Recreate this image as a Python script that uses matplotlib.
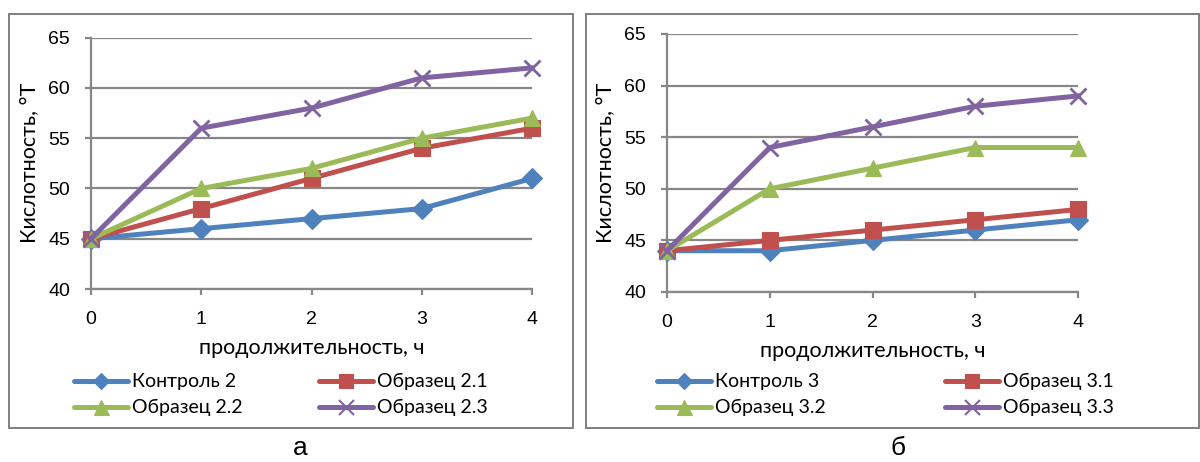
import matplotlib
matplotlib.use("Agg")
import matplotlib.pyplot as plt
from matplotlib.patches import Rectangle

hours = [0, 1, 2, 3, 4]
y_ticks = [40, 45, 50, 55, 60, 65]

names_a = ["Контроль 2", "Образец 2.1", "Образец 2.2", "Образец 2.3"]
control_2 = [45, 46, 47, 48, 51]
sample_2_1 = [45, 48, 51, 54, 56]
sample_2_2 = [45, 50, 52, 55, 57]
sample_2_3 = [45, 56, 58, 61, 62]

names_b = ["Контроль 3", "Образец 3.1", "Образец 3.2", "Образец 3.3"]
control_3 = [44, 44, 45, 46, 47]
sample_3_1 = [44, 45, 46, 47, 48]
sample_3_2 = [44, 50, 52, 54, 54]
sample_3_3 = [44, 54, 56, 58, 59]

x_label = "продолжительность, ч"
y_label = "Кислотность, °Т"

colors = ["#4F81BD", "#C0504D", "#9BBB59", "#8064A2"]
markers = ["D", "s", "^", "x"]
msizes = [10.5, 11.5, 12, 12]

FONT = ["Lato", "DejaVu Sans"]
TICKFONT = ["Liberation Sans", "DejaVu Sans"]
GRID = "#878787"
W, H = 1200, 462

fig = plt.figure(figsize=(12, 4.62), dpi=100)


def fx(px):
    return px / W


def fy(py):
    return 1 - py / H


# outer frames of the two panels
for x0, x1 in [(9, 573), (586, 1199)]:
    fig.add_artist(Rectangle((fx(x0), fy(428)), fx(x1 - x0), (428 - 14) / H,
                             transform=fig.transFigure, fill=False,
                             edgecolor="#7f7f7f", lw=1.4))


def panel(box, series, names, leg_cols, caption, cap_x):
    x0, x1, ytop, ybot = box
    ax = fig.add_axes([fx(x0), fy(ybot), fx(x1 - x0), (ybot - ytop) / H])
    for vals, name, c, m, ms in zip(series, names, colors, markers, msizes):
        ax.plot(hours, vals, color=c, lw=3.6, marker=m, markersize=ms,
                markeredgewidth=2 if m == "x" else 0.8,
                markeredgecolor=c, label=name, clip_on=False, zorder=3)
    ax.set_xlim(0, 4)
    ax.set_ylim(40, 65)
    ax.set_xticks(hours)
    ax.set_yticks(y_ticks)
    ax.yaxis.grid(True, color=GRID, lw=1.6)
    ax.set_axisbelow(True)
    for s in ["top", "right"]:
        ax.spines[s].set_visible(False)
    for s in ["left", "bottom"]:
        ax.spines[s].set_color(GRID)
        ax.spines[s].set_linewidth(1.6)
    ax.tick_params(axis="both", direction="out", color=GRID, width=1.6,
                   length=4, labelsize=14)
    ax.tick_params(axis="x", pad=12)
    ax.tick_params(axis="y", pad=11)
    for lbl in ax.get_xticklabels() + ax.get_yticklabels():
        lbl.set_family(TICKFONT)
    ax.set_xlabel(x_label, fontsize=15.5, family=FONT, labelpad=7)
    ax.set_ylabel(y_label, fontsize=15.5, family=FONT, labelpad=6)

    handles, labels = ax.get_legend_handles_labels()
    rows = [381, 407]
    for i, l in enumerate(labels):
        hx = leg_cols[i % 2]
        y = fy(rows[i // 2])
        fig.add_artist(plt.Line2D([fx(hx), fx(hx + 54)], [y, y],
                                  transform=fig.transFigure, color=colors[i],
                                  lw=3.6, solid_capstyle="round"))
        fig.add_artist(plt.Line2D([fx(hx + 27)], [y],
                                  transform=fig.transFigure, color=colors[i],
                                  marker=markers[i],
                                  markersize=msizes[i] * (0.75 if i == 0 else 0.9),
                                  markeredgewidth=1.5 if markers[i] == "x" else 0.8,
                                  markeredgecolor=colors[i]))
        fig.text(fx(hx + 58), y, l, fontsize=14, family=FONT,
                 va="center", ha="left")
    fig.text(fx(cap_x), fy(448), caption, fontsize=19,
             family=["Liberation Sans", "DejaVu Sans"], ha="center", va="center")
    return ax


panel((91, 532, 37.7, 289),
      [control_2, sample_2_1, sample_2_2, sample_2_3], names_a,
      [74, 319], "а", 300)
panel((667, 1078, 34, 292),
      [control_3, sample_3_1, sample_3_2, sample_3_3], names_b,
      [657, 945], "б", 898)

fig.savefig("out.png", dpi=100)
